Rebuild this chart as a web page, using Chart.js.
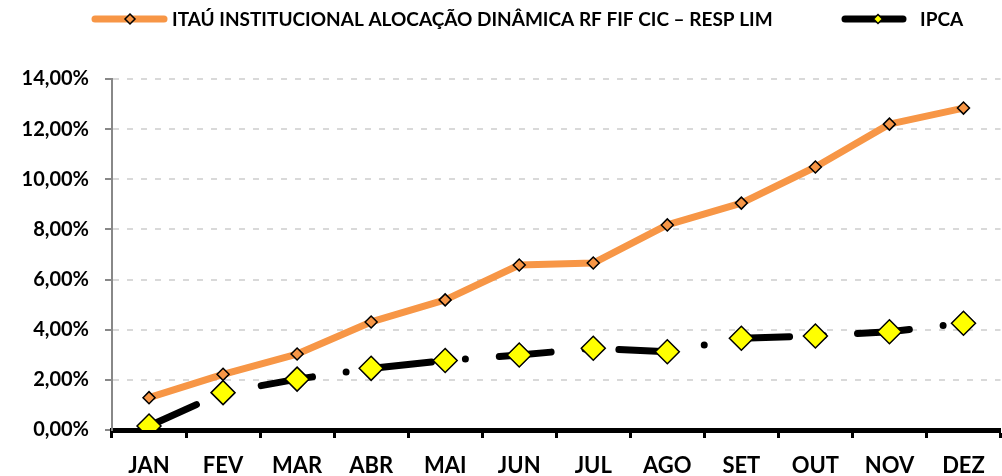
<!DOCTYPE html>
<html>
<head>
<meta charset="utf-8">
<script src="https://cdn.jsdelivr.net/npm/chart.js"></script>
<style>
html, body { margin: 0; padding: 0; overflow: hidden; background: #fff; }
#wrap { width: 1014px; height: 476px; position: relative; }
</style>
</head>
<body>
<div id="wrap"><canvas id="myChart"></canvas></div>
<script>
var months = ["JAN", "FEV", "MAR", "ABR", "MAI", "JUN", "JUL", "AGO", "SET", "OUT", "NOV", "DEZ"];
var fundValues = [1.29, 2.22, 3.03, 4.31, 5.19, 6.58, 6.66, 8.18, 9.05, 10.49, 12.2, 12.84];
var ipcaValues = [0.16, 1.49, 2.03, 2.46, 2.77, 2.99, 3.26, 3.12, 3.66, 3.75, 3.92, 4.26];
var fundLabel = "ITAÚ INSTITUCIONAL ALOCAÇÃO DINÂMICA RF FIF CIC – RESP LIM";
var ipcaLabel = "IPCA";

var orange = "#f79646";
var font = "Lato";

function diamond(ctx, x, y, r, fill) {
    ctx.beginPath();
    ctx.moveTo(x, y - r);
    ctx.lineTo(x + r, y);
    ctx.lineTo(x, y + r);
    ctx.lineTo(x - r, y);
    ctx.closePath();
    ctx.fillStyle = fill;
    ctx.fill();
    ctx.lineWidth = 1.5;
    ctx.strokeStyle = "#000";
    ctx.stroke();
}

// legend drawn by hand, items sit far apart like the original
var topLegend = {
    id: "topLegend",
    afterDraw: function(chart) {
        var ctx = chart.ctx;
        ctx.save();
        ctx.lineCap = "round";
        ctx.lineWidth = 7;

        ctx.strokeStyle = orange;
        ctx.beginPath(); ctx.moveTo(95, 19); ctx.lineTo(164, 19); ctx.stroke();
        diamond(ctx, 130, 19, 5, orange);

        ctx.lineWidth = 7;
        ctx.strokeStyle = "#000";
        ctx.beginPath(); ctx.moveTo(845, 19); ctx.lineTo(903, 19); ctx.stroke();
        diamond(ctx, 878, 19, 4.5, "#ffff00");

        ctx.fillStyle = "#000";
        ctx.font = "bold 19px " + font;
        ctx.textBaseline = "middle";
        ctx.fillText(fundLabel, 172, 20);
        ctx.fillText(ipcaLabel, 920, 20);
        ctx.restore();
    }
};

new Chart("myChart", {
    type: "line",
    data: {
        labels: months,
        datasets: [{
            label: fundLabel,
            data: fundValues,
            borderColor: orange,
            borderWidth: 7,
            borderCapStyle: "round",
            borderJoinStyle: "round",
            pointStyle: "rectRot",
            pointRadius: 6,
            pointBackgroundColor: orange,
            pointBorderColor: "#000",
            pointBorderWidth: 1.5,
            fill: false
        },
        {
            label: ipcaLabel,
            data: ipcaValues,
            borderColor: "#000",
            borderWidth: 7,
            borderDash: [52, 34, 0, 34],
            borderCapStyle: "round",
            borderJoinStyle: "round",
            pointStyle: "rectRot",
            pointRadius: 12,
            pointBackgroundColor: "#ffff00",
            pointBorderColor: "#000",
            pointBorderWidth: 1.5,
            fill: false
        }]
    },
    options: {
        responsive: true,
        maintainAspectRatio: false,
        animation: false,
        layout: { padding: { top: 79, right: 2, bottom: 0, left: 0 } },
        plugins: {
            legend: { display: false },
            tooltip: { enabled: false }
        },
        scales: {
            x: {
                offset: true,
                grid: { offset: true, drawOnChartArea: false, tickLength: 8, tickWidth: 3, tickColor: "#000" },
                border: { color: "#000", width: 5 },
                ticks: { color: "#000", padding: 15, maxRotation: 0, autoSkip: false,
                         font: { family: font, weight: "bold", size: 22 } },
                afterFit: function(s) { s.height = 46; }
            },
            y: {
                min: 0,
                max: 14,
                grid: { color: "#d9d9d9", lineWidth: 2, tickLength: 7, tickWidth: 2,
                        tickColor: "#888", tickBorderDash: [] },
                border: { color: "#888", width: 2, dash: [6, 8] },
                ticks: {
                    stepSize: 2, color: "#000", padding: 16,
                    font: { family: font, weight: "bold", size: 20 },
                    callback: function(v) { return v.toFixed(2).replace(".", ",") + "%"; }
                },
                afterFit: function(s) { s.width = 112; }
            }
        }
    },
    plugins: [topLegend]
});
</script>
</body>
</html>
